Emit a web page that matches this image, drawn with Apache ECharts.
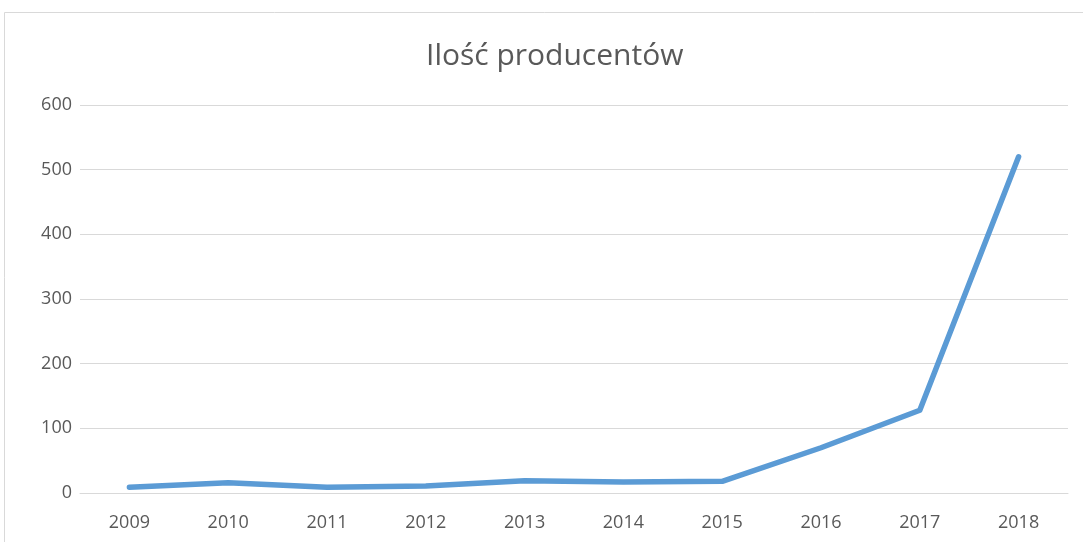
<!DOCTYPE html>
<html><head><meta charset="utf-8">
<script src="https://cdn.jsdelivr.net/npm/echarts@6/dist/echarts.min.js"></script>
<style>html,body{margin:0;padding:0;background:#fff}#c{width:1083px;height:542px}</style>
</head><body><div id="c"></div>
<script>
const categories = ['2009','2010','2011','2012','2013','2014','2015','2016','2017','2018'];
const producers = [9, 16, 9, 11, 19, 17, 18, 70, 128, 520];
const chart = echarts.init(document.getElementById('c'));
chart.setOption({
  animation: false,
  backgroundColor: '#fff',
  graphic: [{type:'rect', shape:{x:4.5,y:12.5,width:1090,height:540}, style:{fill:'none',stroke:'#D9D9D9',lineWidth:1}, silent:true}],
  title: {text:'Ilość producentów', left:421, top:36, textStyle:{fontFamily:'Open Sans', fontSize:30, fontWeight:'normal', color:'#595959'}},
  grid: {left:80, right:15, top:105, bottom:49},
  xAxis: {type:'category', data:categories, boundaryGap:true,
    axisLine:{show:true, lineStyle:{color:'#D9D9D9', width:1}}, axisTick:{show:false},
    axisLabel:{color:'#595959', fontFamily:'Open Sans', fontSize:18, margin:21}},
  yAxis: {type:'value', min:0, max:600, interval:100,
    axisLine:{show:false}, axisTick:{show:false},
    splitLine:{lineStyle:{color:'#D9D9D9', width:1}},
    axisLabel:{color:'#595959', fontFamily:'Open Sans', fontSize:18, margin:8}},
  series: [{type:'line', data:producers, symbol:'none', lineStyle:{color:'#5B9BD5', width:5.5, cap:'round', join:'round'}}]
});
</script></body></html>
